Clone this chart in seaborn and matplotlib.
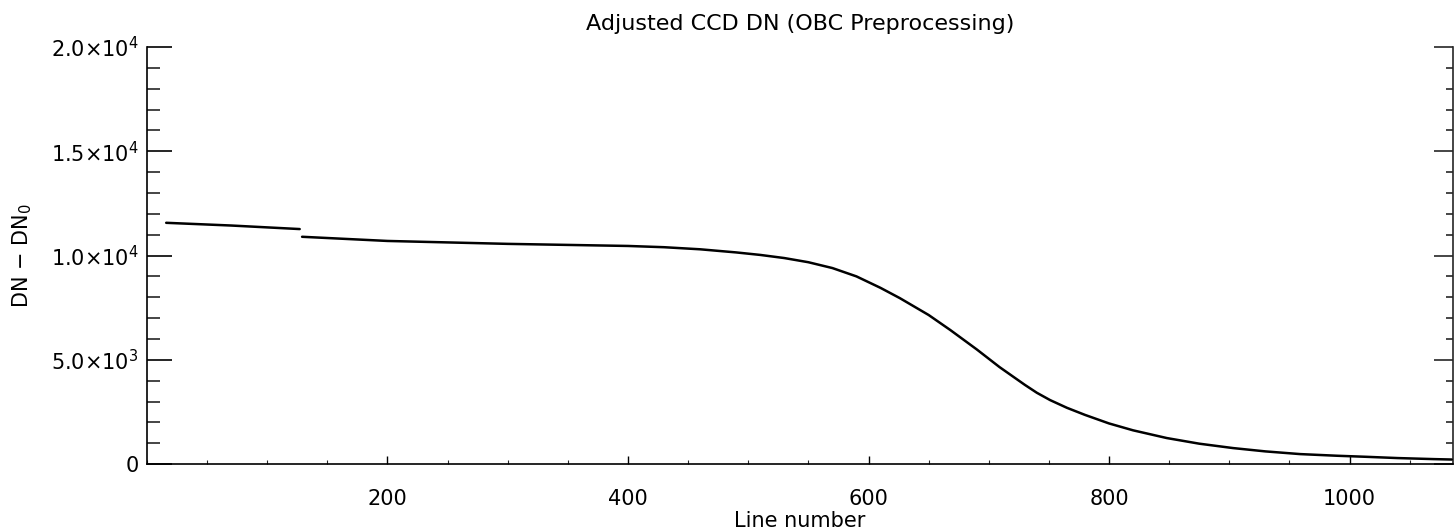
"""
Adjusted CCD DN after OBC preprocessing, redrawn with seaborn.
"""
import numpy as np
import pandas as pd
import matplotlib
matplotlib.use('Agg')
import matplotlib.pyplot as plt
from matplotlib.ticker import MultipleLocator, FixedLocator, FixedFormatter
import seaborn as sns

# first segment (before the step near line 128)
seg1_line = [16, 70, 127]
seg1_dn = [11570, 11440, 11270]

# second segment
seg2_line = [129, 200, 300, 400, 430, 460, 490, 510, 530, 550, 570, 590, 610,
             626, 650, 668, 690, 709, 730, 740, 751, 765, 780, 800, 820, 848,
             875, 903, 930, 959, 990, 1014, 1040, 1070, 1085]
seg2_dn = [10900, 10700, 10560, 10460, 10400, 10300, 10150, 10030, 9880, 9680,
           9400, 9000, 8450, 7960, 7150, 6430, 5500, 4650, 3800, 3420, 3070,
           2700, 2360, 1950, 1620, 1250, 980, 770, 610, 480, 400, 350, 290,
           240, 220]

ytick_vals = [0, 5000, 10000, 15000, 20000]
ytick_labels = ['0', r'$5.0{\times}10^3$', r'$1.0{\times}10^4$',
                r'$1.5{\times}10^4$', r'$2.0{\times}10^4$']

df = pd.DataFrame({
    "line": seg1_line + seg2_line,
    "dn": seg1_dn + seg2_dn,
    "segment": ["a"] * len(seg1_line) + ["b"] * len(seg2_line),
})

sns.set_theme(style="ticks")
plt.rcParams['font.family'] = ['DejaVu Sans']
plt.rcParams['mathtext.fontset'] = 'dejavusans'
plt.rcParams['text.color'] = 'black'
plt.rcParams['axes.labelcolor'] = 'black'

fig = plt.figure(figsize=(14.55, 5.28), dpi=100)
ax = fig.add_axes([0.101, 0.121, 0.8976, 0.79])

sns.lineplot(data=df, x="line", y="dn", units="segment", estimator=None,
             color="black", linewidth=1.8, ax=ax, legend=False)

ax.set_xlim(0, 1086)
ax.set_ylim(0, 20000)

ax.xaxis.set_major_locator(FixedLocator([200, 400, 600, 800, 1000]))
ax.xaxis.set_minor_locator(MultipleLocator(50))
ax.yaxis.set_major_locator(FixedLocator(ytick_vals))
ax.yaxis.set_major_formatter(FixedFormatter(ytick_labels))
ax.yaxis.set_minor_locator(MultipleLocator(1000))

ax.tick_params(axis='x', which='major', direction='in', length=6, width=1,
               labelsize=15, pad=18, colors='black')
ax.tick_params(axis='x', which='minor', direction='in', length=3, width=0.8)
ax.tick_params(axis='y', which='major', direction='in', length=18, width=1.2,
               labelsize=15, pad=6, colors='black')
ax.tick_params(axis='y', which='minor', direction='in', length=9, width=1.2)

sec = ax.secondary_yaxis('right')
sec.yaxis.set_major_locator(FixedLocator(ytick_vals))
sec.yaxis.set_minor_locator(MultipleLocator(1000))
sec.tick_params(which='major', direction='in', length=14, width=1.2, labelright=False)
sec.tick_params(which='minor', direction='in', length=5, width=1.2)
sec.spines['right'].set_linewidth(1.2)

ax.spines['top'].set_visible(False)
ax.spines['right'].set_visible(False)
for s in ('left', 'bottom'):
    ax.spines[s].set_linewidth(1.2)
    ax.spines[s].set_color('black')

ax.set_xlabel("Line number", fontsize=15, labelpad=1, color='black')
ax.set_ylabel(r"DN $-$ DN$_\mathregular{0}$", fontsize=15, labelpad=12, color='black')
ax.set_title("Adjusted CCD DN (OBC Preprocessing)", fontsize=16, pad=12, color='black')

fig.savefig("out.png", dpi=100)
